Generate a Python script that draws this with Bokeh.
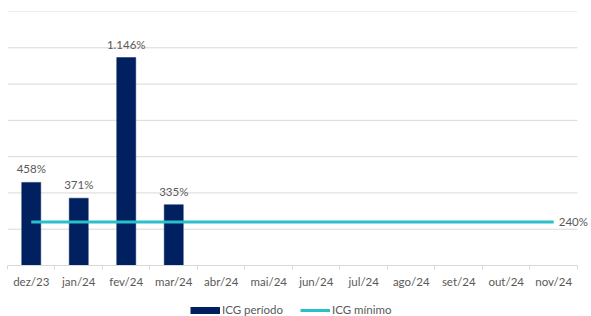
from bokeh.plotting import figure
from bokeh.layouts import column
from bokeh.models import (Range1d, FixedTicker, LinearAxis, Legend, LegendItem,
                          ColumnDataSource, Label)
from bokeh.embed import file_html
from bokeh.resources import INLINE
from bokeh.core.properties import value

months = ["dez/23", "jan/24", "fev/24", "mar/24", "abr/24", "mai/24",
          "jun/24", "jul/24", "ago/24", "set/24", "out/24", "nov/24"]
icg_periodo = [458, 371, 1146, 335]
icg_minimo = [240] * 12
y_ticks = [0, 200, 400, 600, 800, 1000, 1200, 1400]

NAVY = "#002060"
CYAN = "#2BBFCC"
GRID = "#D9D9D9"
TXT = "#595959"
FONT = "Lato"
FS = "11.5px"

n = len(months)
p = figure(width=591, height=300, output_backend="svg", toolbar_location=None,
           x_range=Range1d(0, n * 1.0246), y_range=Range1d(0, 1400),
           min_border_left=7, min_border_right=0, min_border_top=11,
           min_border_bottom=35, x_axis_type=None, y_axis_type=None)
p.outline_line_color = None
p.background_fill_color = "white"
p.grid.visible = False

# horizontal gridlines, spanning the category area only
gsrc = ColumnDataSource(dict(x0=[0] * len(y_ticks), x1=[n] * len(y_ticks),
                             y=y_ticks))
p.segment(x0="x0", x1="x1", y0="y", y1="y", source=gsrc, line_color=GRID,
          line_width=1, level="underlay")

# x axis: labels at category centres, tick marks at boundaries
centers = [i + 0.5 for i in range(n)]
xaxis = LinearAxis(ticker=FixedTicker(ticks=centers,
                                      minor_ticks=list(range(n + 1))),
                   bounds=(0, n))
xaxis.major_label_overrides = {c: m for c, m in zip(centers, months)}
xaxis.major_tick_line_color = None
xaxis.major_tick_in = 0
xaxis.major_tick_out = 0
xaxis.minor_tick_line_color = GRID
xaxis.minor_tick_in = 0
xaxis.minor_tick_out = 4
xaxis.axis_line_color = GRID
xaxis.major_label_text_font = FONT
xaxis.major_label_text_font_size = FS
xaxis.major_label_text_color = TXT
xaxis.major_label_standoff = 5
p.add_layout(xaxis, "below")

# bars
bsrc = ColumnDataSource(dict(
    x=centers[:len(icg_periodo)], top=icg_periodo,
    lab=[f"{v:,}".replace(",", ".") + "%" for v in icg_periodo]))
p.vbar(x="x", top="top", width=0.4, source=bsrc, fill_color=NAVY,
       line_color=NAVY, line_width=0.5)
p.text(x="x", y="top", text="lab", source=bsrc, text_align="center",
       text_baseline="bottom", y_offset=-7, text_font=value(FONT),
       text_font_size=FS, text_color=TXT)

# minimum line
lsrc = ColumnDataSource(dict(x=centers, y=icg_minimo))
p.line(x="x", y="y", source=lsrc, line_color=CYAN, line_width=3)
p.add_layout(Label(x=centers[-1], y=icg_minimo[-1], text=f"{icg_minimo[-1]}%",
                   x_offset=5, text_baseline="middle", text_font=FONT,
                   text_font_size=FS, text_color=TXT))

# legend in its own strip below the chart
lf = figure(width=591, height=16, output_backend="svg", toolbar_location=None,
            x_range=Range1d(0, 1), y_range=Range1d(0, 1),
            min_border_left=0, min_border_right=0, min_border_top=0,
            min_border_bottom=0, x_axis_type=None, y_axis_type=None)
lf.outline_line_color = None
lf.grid.visible = False
leg_bar = lf.line(x=[0, 0], y=[-10, -10], line_color=NAVY, line_width=7)
leg_line = lf.line(x=[0, 0], y=[-10, -10], line_color=CYAN, line_width=3)
legend = Legend(items=[LegendItem(label="ICG período", renderers=[leg_bar]),
                       LegendItem(label="ICG mínimo", renderers=[leg_line])],
                orientation="horizontal", location=(183, 0),
                glyph_width=30, glyph_height=12, label_standoff=2,
                spacing=17, padding=0, margin=0, border_line_color=None,
                background_fill_alpha=0, label_text_font=FONT,
                label_text_font_size=FS, label_text_color=TXT)
lf.add_layout(legend, "center")

layout = column(p, lf, spacing=0)
open("out.html", "w").write(file_html(layout, INLINE))
